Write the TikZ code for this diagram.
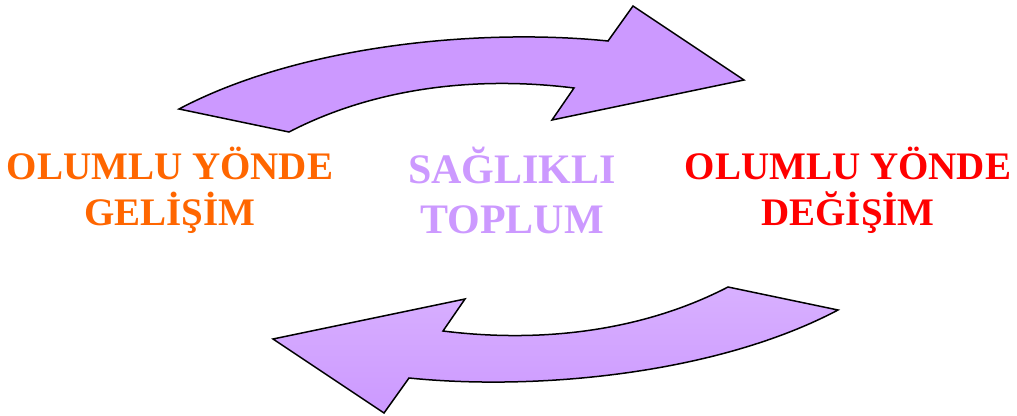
\documentclass[tikz,border=0pt]{standalone}
\usepackage{fontspec}
\setmainfont{Liberation Serif}
\definecolor{arrowfill}{HTML}{CC99FF}
\definecolor{arrowlight}{HTML}{D8B0FF}
\definecolor{orangetxt}{HTML}{FF6600}
\definecolor{purpletxt}{HTML}{CC99FF}
\definecolor{redtxt}{HTML}{FF0000}
\begin{document}
\begin{tikzpicture}[x=1pt,y=-1pt,
  arrowshape/.style={draw=black,line width=1.5pt,line join=miter},
  labelA/.style={font=\bfseries\fontsize{39}{46}\selectfont,align=center,inner sep=0pt,anchor=base},
  labelB/.style={font=\bfseries\fontsize{42}{50}\selectfont,align=center,inner sep=0pt,anchor=base}]
\useasboundingbox (0,0) rectangle (1017,415);
% top arrow
\path[arrowshape,fill=arrowfill]
  (179,109) .. controls (300,45) and (480,28) .. (608,41)
  -- (633,6) -- (744,80) -- (552,120) -- (574,88)
  .. controls (470,75) and (370,90) .. (289,132) -- cycle;
% bottom arrow
\path[arrowshape,top color=arrowlight,bottom color=arrowfill]
  (838,310) .. controls (717,374) and (537,391) .. (409,378)
  -- (384,413) -- (273,339) -- (465,299) -- (443,331)
  .. controls (547,344) and (647,329) .. (728,287) -- cycle;
\node[labelA,text=orangetxt] (left) at (170,225) {OLUMLU YÖNDE\\GELİŞİM};
\node[labelB,text=purpletxt] (mid) at (512,233) {SAĞLIKLI\\TOPLUM};
\node[labelA,text=redtxt] (right) at (848,225) {OLUMLU YÖNDE\\DEĞİŞİM};
\end{tikzpicture}
\end{document}
